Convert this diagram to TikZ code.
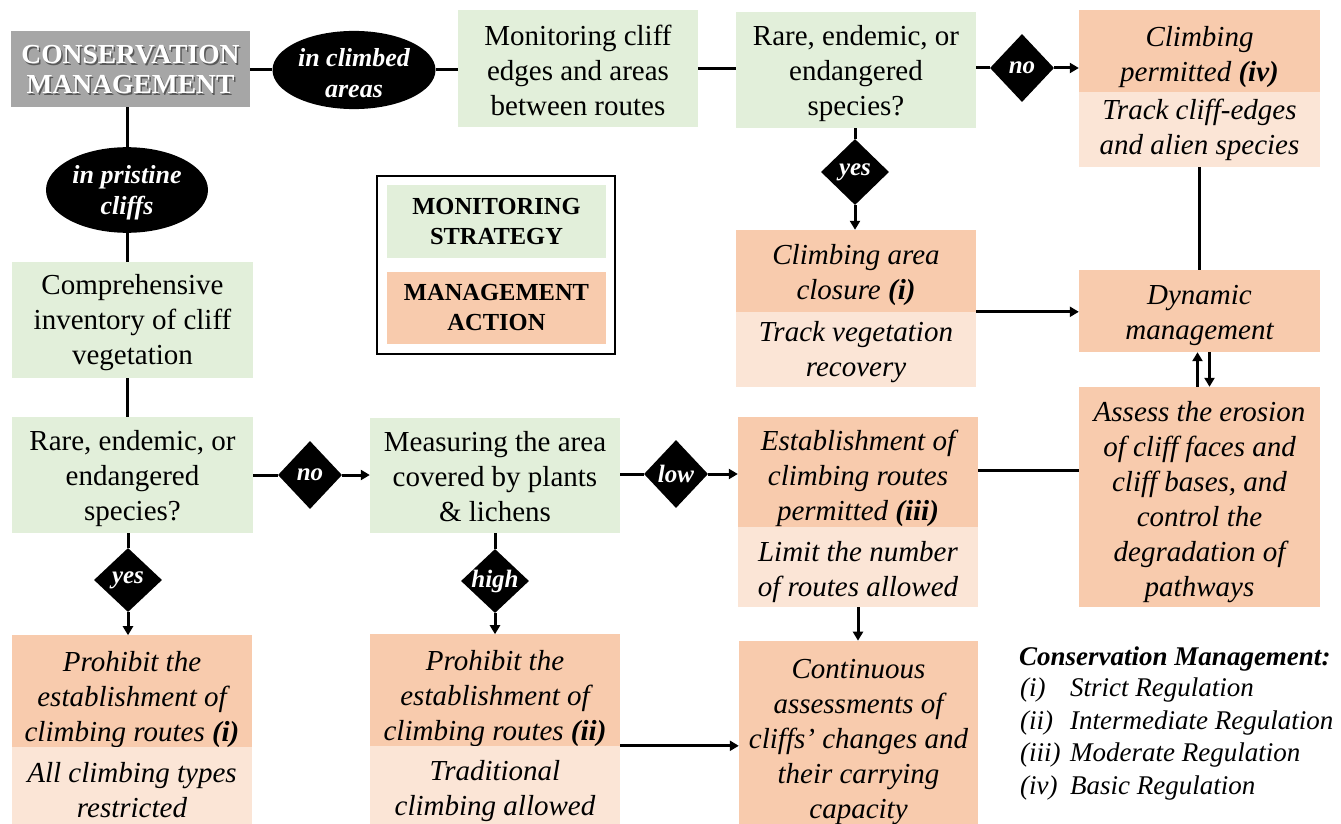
\documentclass[tikz,border=0pt]{standalone}
\usepackage{fontspec}
\setmainfont{Liberation Serif}
\usetikzlibrary{shapes.geometric,arrows.meta}
\definecolor{grn}{HTML}{E2EFDA}
\definecolor{org}{HTML}{F8CBAD}
\definecolor{lorg}{HTML}{FBE5D6}
\definecolor{gry}{HTML}{A6A6A6}
% strut on the first line that lowers a centred text block by #1 pt
\newcommand\dn[1]{\rule{0pt}{\dimexpr 20pt+#1pt*2\relax}}
\begin{document}
\begin{tikzpicture}[x=1pt,y=-1pt,
 box/.style={inner sep=0pt, align=center, font=\fontsize{29}{35}\selectfont},
 gbox/.style={box, fill=grn},
 obox/.style={box, fill=org, font=\fontsize{29}{35}\selectfont\itshape},
 lbox/.style={box, fill=lorg, font=\fontsize{29}{35}\selectfont\itshape},
 dia/.style={diamond, fill=black, inner sep=0pt},
 dlab/.style={text=white, font=\fontsize{25}{26}\selectfont\bfseries\itshape},
 ell/.style={ellipse, fill=black, inner sep=0pt, text=white, align=center, font=\fontsize{26}{31}\selectfont\bfseries\itshape},
 conn/.style={line width=3pt},
 arr/.style={line width=3pt, -{Triangle[length=9pt,width=10pt]}},
 cmtxt/.style={align=center, font=\fontsize{27.5}{30}\selectfont\bfseries},
 lgtxt/.style={anchor=west, inner sep=0pt, font=\fontsize{27}{30}\selectfont\itshape},
]
\useasboundingbox (0,0) rectangle (1341,824);

% top-left
\node[box, fill=gry, minimum width=239pt, minimum height=76pt] (cm) at (130.5,69) {};
\node[cmtxt, text=black!65] (cmshadow) at (132,71.5) {CONSERVATION\\MANAGEMENT};
\node[cmtxt, text=white] (cmtext) at (130.5,70) {CONSERVATION\\MANAGEMENT};
\node[ell, minimum width=163pt, minimum height=76pt] (e1) at (354,70) {\dn{2}in climbed\\areas};
\node[ell, minimum width=162pt, minimum height=64pt] (e2) at (127,190) {\dn{2}in pristine\\cliffs};

\node[gbox, minimum width=240pt, minimum height=117pt] (mon) at (578,68.5) {\dn{2}Monitoring cliff\\edges and areas\\between routes};
\node[gbox, minimum width=240pt, minimum height=116pt] (rare1) at (856,70) {\dn{4}Rare, endemic, or\\endangered\\species?};
\node[dia, minimum width=64pt, minimum height=68pt, label={[dlab]center:no}] (dno1) at (1022,68) {};
\node[obox, minimum width=241pt, minimum height=82pt] (permD) at (1199.5,51) {\dn{6}Climbing\\permitted \textbf{(iv)}};
\node[lbox, minimum width=241pt, minimum height=75pt] (permL) at (1199.5,129.5) {Track cliff-edges\\and alien species};
\node[dia, minimum width=68pt, minimum height=66pt, label={[dlab]center:yes}] (dyes1) at (855,172) {};
\node[obox, minimum width=240pt, minimum height=82pt] (closD) at (856,271) {\dn{4}Climbing area\\closure \textbf{(i)}};
\node[lbox, minimum width=240pt, minimum height=75pt] (closL) at (856,349.5) {\dn{3}Track vegetation\\recovery};
\node[obox, minimum width=241pt, minimum height=82pt] (dyn) at (1199.5,311) {\dn{4}Dynamic\\management};
\node[obox, minimum width=241pt, minimum height=220pt] (assess) at (1199.5,497) {\dn{5}Assess the erosion\\of cliff faces and\\cliff bases, and\\control the\\degradation of\\pathways};

% legend box
\node[draw, line width=1.5pt, minimum width=238pt, minimum height=178pt, inner sep=0pt] (frame) at (496,265) {};
\node[gbox, minimum width=219pt, minimum height=73pt, font=\fontsize{24.5}{30}\selectfont\bfseries] (lgG) at (496.5,221.5) {MONITORING\\STRATEGY};
\node[box, fill=org, minimum width=219pt, minimum height=72pt, font=\fontsize{24.5}{30}\selectfont\bfseries] (lgO) at (496.5,308) {MANAGEMENT\\ACTION};

% left column
\node[gbox, minimum width=241pt, minimum height=116pt] (comp) at (132.5,320) {\dn{3}Comprehensive\\inventory of cliff\\vegetation};
\node[gbox, minimum width=241pt, minimum height=116pt] (rare2) at (132.5,475) {\dn{4}Rare, endemic, or\\endangered\\species?};
\node[dia, minimum width=64pt, minimum height=68pt, label={[dlab]center:no}] (dno2) at (310,475) {};
\node[gbox, minimum width=250pt, minimum height=115pt] (meas) at (495,475.5) {\dn{1}Measuring the area\\covered by plants\\\& lichens};
\node[dia, minimum width=68pt, minimum height=64pt, label={[dlab]center:yes}] (dyes2) at (128,580) {};
\node[obox, minimum width=240pt, minimum height=111pt] (proh1D) at (132,691.5) {\dn{8}Prohibit the\\establishment of\\climbing routes \textbf{(i)}};
\node[lbox, minimum width=240pt, minimum height=77pt] (proh1L) at (132,785.5) {\dn{5}All climbing types\\restricted};
\node[dia, minimum width=68pt, minimum height=64pt, label={[dlab]center:high}] (dhigh) at (495,581) {};
\node[obox, minimum width=250pt, minimum height=111pt] (proh2D) at (495,690.5) {\dn{8}Prohibit the\\establishment of\\climbing routes \textbf{(ii)}};
\node[lbox, minimum width=250pt, minimum height=78pt] (proh2L) at (495,785) {\dn{6}Traditional\\climbing allowed};
\node[dia, minimum width=64pt, minimum height=68pt, label={[dlab]center:low}] (dlow) at (676,474) {};
\node[obox, minimum width=240pt, minimum height=110pt] (estD) at (858,472) {\dn{7}Establishment of\\climbing routes\\permitted \textbf{(iii)}};
\node[lbox, minimum width=240pt, minimum height=80pt] (estL) at (858,567) {\dn{5}Limit the number\\of routes allowed};
\node[obox, minimum width=239pt, minimum height=182pt] (cont) at (858.5,733) {\dn{9}Continuous\\assessments of\\cliffs’ changes and\\their carrying\\capacity};

% bottom-right legend
\node[lgtxt, font=\fontsize{27}{30}\selectfont\bfseries\itshape] (lgt) at (1019,659) {Conservation Management:};
\node[lgtxt] (r1) at (1020,690) {(i)};
\node[lgtxt] (t1) at (1070,690) {Strict Regulation};
\node[lgtxt] (r2) at (1020,723) {(ii)};
\node[lgtxt] (t2) at (1070,723) {Intermediate Regulation};
\node[lgtxt] (r3) at (1020,755) {(iii)};
\node[lgtxt] (t3) at (1070,755) {Moderate Regulation};
\node[lgtxt] (r4) at (1020,788) {(iv)};
\node[lgtxt] (t4) at (1070,788) {Basic Regulation};

% connectors
\draw[conn] (e1.west -| cm.east) -- (e1.west);
\draw[conn] (e1.east) -- (e1.east -| mon.west);
\draw[conn] (e2.north |- cm.south) -- (e2.north);
\draw[conn] (e2.south) -- (e2.south |- comp.north);
\draw[conn] (mon.east) -- (mon.east -| rare1.west);
\draw[conn] (dno1.west -| rare1.east) -- (dno1.west);
\draw[arr] (dno1.east) -- (dno1.east -| permD.west);
\draw[conn] (dyes1.north |- rare1.south) -- (dyes1.north);
\draw[arr] (dyes1.south) -- (dyes1.south |- closD.north);
\draw[conn] (permL.south) -- (dyn.north);
\draw[arr] (closL.north east) -- (closL.north east -| dyn.west);
\draw[arr] ([xshift=-2pt]assess.north) -- ([xshift=-2pt]dyn.south);
\draw[arr] ([xshift=10pt]dyn.south) -- ([xshift=10pt]assess.north);
\draw[conn] (e2.south |- comp.south) -- (e2.south |- rare2.north);
\draw[conn] (dno2.west -| rare2.east) -- (dno2.west);
\draw[arr] (dno2.east) -- (dno2.east -| meas.west);
\draw[conn] (dyes2.north |- rare2.south) -- (dyes2.north);
\draw[arr] (dyes2.south) -- (dyes2.south |- proh1D.north);
\draw[conn] (dhigh.north |- meas.south) -- (dhigh.north);
\draw[arr] (dhigh.south) -- (dhigh.south |- proh2D.north);
\draw[conn] (dlow.west -| meas.east) -- (dlow.west);
\draw[arr] (dlow.east) -- (dlow.east -| estD.west);
\draw[conn] ([yshift=2pt]estD.east) -- ([yshift=2pt]estD.east -| assess.west);
\draw[arr] (estL.south) -- (estL.south |- cont.north);
\draw[arr] (proh2L.north east) -- (proh2L.north east -| cont.west);
\end{tikzpicture}
\end{document}
